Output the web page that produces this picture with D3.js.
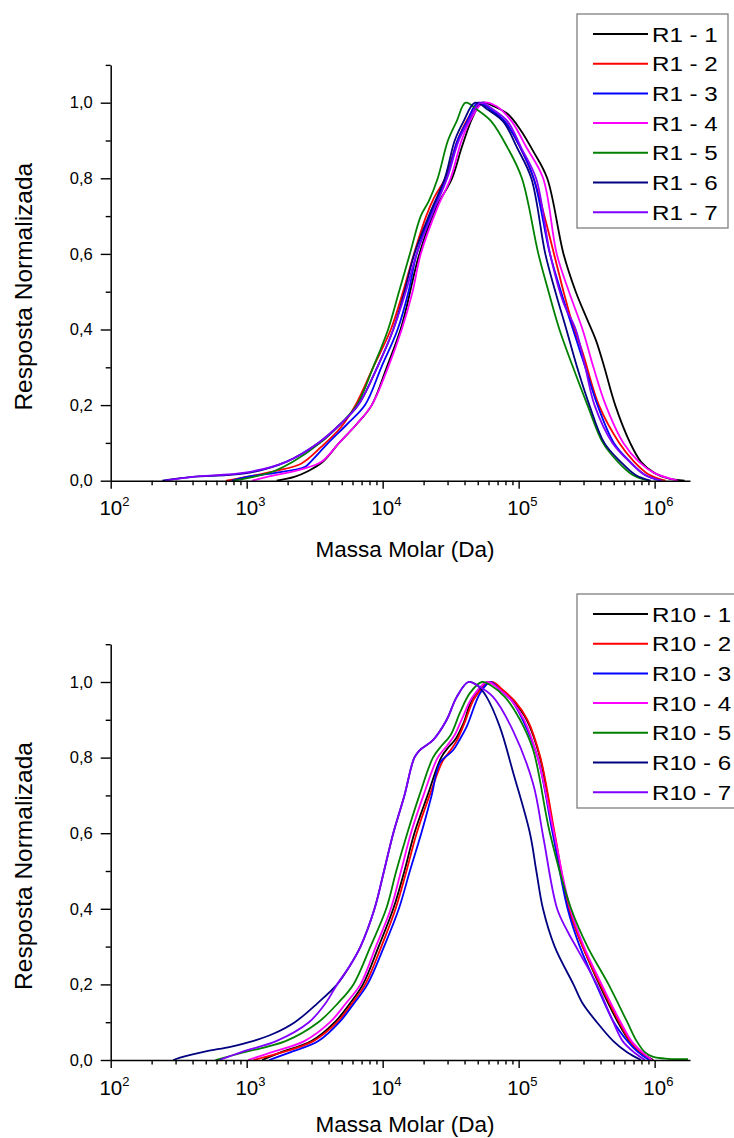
<!DOCTYPE html>
<html>
<head>
<meta charset="utf-8">
<script src="https://cdn.jsdelivr.net/npm/d3@7"></script>
<style>
  html, body { margin: 0; padding: 0; background: #fff; }
  svg { display: block; }
  text { font-family: "Liberation Sans", Arial, sans-serif; fill: #000; }
</style>
</head>
<body>
<svg id="chart" width="734" height="1138"></svg>
<script>
// Molar mass distributions (GPC), normalised detector response.
// Each series: [log10(M / Da), normalised response]

const seriesColors = ["#000000", "#ff0000", "#0000ff", "#ff00ff", "#008000", "#000080", "#8000ff"];

const r1Names = ["R1 - 1", "R1 - 2", "R1 - 3", "R1 - 4", "R1 - 5", "R1 - 6", "R1 - 7"];
const r10Names = ["R10 - 1", "R10 - 2", "R10 - 3", "R10 - 4", "R10 - 5", "R10 - 6", "R10 - 7"];

const yTickValues = [0, 0.2, 0.4, 0.6, 0.8, 1.0];
const xDecades = [2, 3, 4, 5, 6];

const r1_1 = [[3.22,0],[3.35,0.01],[3.45,0.025],[3.56,0.05],[3.68,0.10],[3.81,0.15],[3.92,0.20],[4.03,0.30],[4.14,0.41],[4.27,0.60],[4.39,0.72],[4.51,0.80],[4.58,0.88],[4.66,0.96],[4.73,1.0],[4.82,0.99],[4.92,0.97],[5.01,0.93],[5.11,0.87],[5.21,0.80],[5.33,0.60],[5.42,0.50],[5.50,0.43],[5.57,0.37],[5.63,0.30],[5.71,0.20],[5.82,0.10],[5.90,0.05],[6.00,0.02],[6.10,0.006],[6.22,0]];
const r1_2 = [[2.85,0],[3.0,0.01],[3.2,0.025],[3.4,0.045],[3.55,0.09],[3.69,0.14],[3.80,0.20],[3.93,0.30],[4.06,0.40],[4.15,0.50],[4.23,0.60],[4.32,0.70],[4.38,0.75],[4.46,0.80],[4.55,0.90],[4.63,0.96],[4.71,1.0],[4.80,0.98],[4.90,0.95],[5.00,0.89],[5.11,0.80],[5.26,0.60],[5.33,0.50],[5.40,0.41],[5.47,0.34],[5.59,0.20],[5.74,0.10],[5.85,0.05],[5.95,0.018],[6.08,0]];
const r1_3 = [[2.89,0],[3.0,0.01],[3.2,0.02],[3.43,0.037],[3.47,0.05],[3.60,0.10],[3.74,0.15],[3.87,0.20],[3.99,0.30],[4.11,0.40],[4.19,0.50],[4.25,0.60],[4.37,0.72],[4.47,0.80],[4.55,0.90],[4.62,0.95],[4.70,1.0],[4.80,0.98],[4.90,0.95],[5.00,0.89],[5.11,0.80],[5.23,0.60],[5.32,0.49],[5.40,0.40],[5.49,0.30],[5.58,0.20],[5.70,0.10],[5.82,0.05],[5.93,0.015],[6.05,0]];
const r1_4 = [[3.04,0],[3.15,0.01],[3.40,0.03],[3.55,0.05],[3.68,0.10],[3.81,0.15],[3.92,0.20],[4.04,0.30],[4.14,0.40],[4.22,0.50],[4.28,0.60],[4.40,0.72],[4.50,0.80],[4.58,0.90],[4.64,0.95],[4.74,1.0],[4.84,0.99],[4.95,0.95],[5.06,0.88],[5.18,0.80],[5.28,0.60],[5.37,0.50],[5.47,0.40],[5.55,0.30],[5.64,0.20],[5.77,0.10],[5.885,0.05],[6.0,0.02],[6.17,0]];
const r1_5 = [[2.90,0],[3.05,0.01],[3.20,0.025],[3.34,0.05],[3.54,0.10],[3.69,0.15],[3.81,0.20],[3.93,0.30],[4.04,0.40],[4.12,0.50],[4.20,0.60],[4.28,0.70],[4.34,0.74],[4.405,0.80],[4.48,0.90],[4.543,0.95],[4.61,1.0],[4.70,0.98],[4.80,0.95],[4.92,0.88],[5.024,0.80],[5.145,0.60],[5.22,0.50],[5.30,0.40],[5.40,0.30],[5.506,0.20],[5.62,0.10],[5.73,0.05],[5.84,0.015],[5.95,0]];
const r1_6 = [[2.38,0],[2.6,0.01],[3.0,0.02],[3.29,0.05],[3.527,0.10],[3.69,0.15],[3.82,0.20],[3.96,0.30],[4.078,0.40],[4.16,0.50],[4.233,0.60],[4.35,0.71],[4.457,0.80],[4.53,0.90],[4.594,0.95],[4.68,1.0],[4.78,0.98],[4.887,0.95],[4.99,0.88],[5.093,0.80],[5.196,0.60],[5.27,0.50],[5.351,0.40],[5.43,0.30],[5.52,0.20],[5.63,0.10],[5.75,0.05],[5.86,0.015],[5.97,0]];
const r1_7 = [[2.40,0],[2.6,0.01],[3.0,0.022],[3.29,0.05],[3.527,0.10],[3.69,0.15],[3.82,0.20],[3.96,0.30],[4.078,0.40],[4.17,0.50],[4.25,0.60],[4.37,0.71],[4.474,0.80],[4.56,0.90],[4.63,0.95],[4.72,1.0],[4.82,0.98],[4.92,0.95],[5.02,0.88],[5.128,0.80],[5.231,0.60],[5.33,0.47],[5.42,0.40],[5.49,0.30],[5.558,0.20],[5.69,0.10],[5.816,0.05],[5.93,0.015],[6.05,0]];

const r10_1 = [[3.114,0],[3.25,0.02],[3.476,0.05],[3.648,0.10],[3.76,0.15],[3.855,0.20],[3.97,0.30],[4.078,0.40],[4.16,0.50],[4.233,0.60],[4.33,0.70],[4.43,0.80],[4.49,0.83],[4.532,0.847],[4.593,0.89],[4.666,0.96],[4.78,1.0],[4.87,0.98],[4.96,0.95],[5.059,0.90],[5.157,0.80],[5.26,0.60],[5.37,0.40],[5.472,0.30],[5.593,0.20],[5.73,0.10],[5.816,0.05],[5.90,0.02],[5.99,0]];
const r10_2 = [[3.05,0],[3.26,0.02],[3.49,0.05],[3.665,0.10],[3.775,0.15],[3.872,0.20],[3.99,0.30],[4.095,0.40],[4.175,0.50],[4.25,0.60],[4.345,0.70],[4.44,0.79],[4.50,0.82],[4.545,0.845],[4.60,0.89],[4.68,0.96],[4.80,1.0],[4.88,0.98],[4.97,0.95],[5.065,0.90],[5.16,0.80],[5.265,0.60],[5.37,0.40],[5.47,0.30],[5.60,0.20],[5.74,0.10],[5.82,0.05],[5.90,0.02],[5.98,0]];
const r10_3 = [[3.165,0],[3.32,0.02],[3.527,0.05],[3.682,0.10],[3.79,0.15],[3.888,0.20],[4.01,0.30],[4.119,0.40],[4.20,0.50],[4.284,0.60],[4.36,0.70],[4.421,0.786],[4.519,0.82],[4.57,0.85],[4.618,0.882],[4.716,0.97],[4.79,1.0],[4.86,0.98],[4.95,0.95],[5.03,0.90],[5.14,0.80],[5.25,0.60],[5.36,0.40],[5.45,0.30],[5.57,0.20],[5.70,0.10],[5.80,0.05],[5.88,0.02],[5.96,0]];
const r10_4 = [[3.01,0],[3.18,0.02],[3.424,0.05],[3.613,0.10],[3.73,0.15],[3.837,0.20],[3.95,0.30],[4.06,0.40],[4.135,0.50],[4.208,0.60],[4.30,0.70],[4.405,0.80],[4.47,0.83],[4.53,0.86],[4.58,0.90],[4.66,0.96],[4.77,1.0],[4.86,0.98],[4.95,0.95],[5.04,0.90],[5.14,0.80],[5.26,0.60],[5.38,0.40],[5.48,0.30],[5.61,0.20],[5.75,0.10],[5.83,0.05],[5.91,0.02],[5.98,0]];
const r10_5 = [[2.77,0],[2.976,0.02],[3.286,0.05],[3.527,0.10],[3.67,0.15],[3.785,0.20],[3.91,0.30],[4.026,0.40],[4.10,0.50],[4.181,0.60],[4.27,0.70],[4.37,0.80],[4.43,0.83],[4.50,0.86],[4.57,0.92],[4.64,0.97],[4.73,1.0],[4.80,0.99],[4.90,0.96],[5.01,0.90],[5.107,0.82],[5.23,0.60],[5.386,0.40],[5.506,0.30],[5.661,0.20],[5.799,0.10],[5.868,0.05],[5.93,0.02],[5.99,0.008],[6.10,0.003],[6.245,0.002]];
const r10_6 = [[2.46,0],[2.55,0.01],[2.70,0.023],[2.88,0.035],[3.045,0.05],[3.20,0.07],[3.354,0.10],[3.52,0.15],[3.665,0.20],[3.76,0.25],[3.837,0.30],[3.94,0.40],[4.01,0.50],[4.078,0.60],[4.16,0.70],[4.233,0.80],[4.274,0.82],[4.372,0.847],[4.471,0.90],[4.544,0.96],[4.63,1.0],[4.70,0.99],[4.765,0.96],[4.863,0.88],[4.96,0.76],[5.083,0.60],[5.13,0.50],[5.179,0.40],[5.265,0.30],[5.403,0.20],[5.47,0.15],[5.575,0.10],[5.696,0.05],[5.80,0.02],[5.90,0]];
const r10_7 = [[2.80,0],[2.976,0.023],[3.217,0.05],[3.458,0.10],[3.58,0.15],[3.665,0.20],[3.76,0.25],[3.837,0.30],[3.94,0.40],[4.01,0.50],[4.078,0.60],[4.16,0.70],[4.233,0.80],[4.274,0.82],[4.372,0.847],[4.471,0.90],[4.544,0.96],[4.63,1.0],[4.70,0.99],[4.813,0.96],[4.96,0.87],[5.107,0.73],[5.181,0.59],[5.283,0.40],[5.36,0.34],[5.437,0.29],[5.575,0.20],[5.696,0.10],[5.765,0.05],[5.85,0.02],[5.93,0]];

const r1Series = [r1_1, r1_2, r1_3, r1_4, r1_5, r1_6, r1_7];
const r10Series = [r10_1, r10_2, r10_3, r10_4, r10_5, r10_6, r10_7];

const svg = d3.select("#chart");

// Shared log axis for molar mass (Da)
const x = d3.scaleLog().domain([100, 1.82e6]).range([110.7, 690]);

const minorX = [];
for (let e = 2; e <= 6; e++) {
  for (let m = 2; m <= 9; m++) {
    const v = m * Math.pow(10, e);
    if (v <= x.domain()[1]) minorX.push(v);
  }
}

function drawPanel(baseY, series, names, legendTop, legendWidth, titleY) {
  const g = svg.append("g");
  const y = d3.scaleLinear().domain([0, 1.1]).range([baseY, baseY - 415.8]);

  // curves
  const line = d3.line()
    .x(d => x(Math.pow(10, d[0])))
    .y(d => y(Math.max(0, d[1])))
    .curve(d3.curveCatmullRom.alpha(0.5));

  series.forEach((s, i) => {
    g.append("path")
      .datum(s)
      .attr("d", line)
      .attr("fill", "none")
      .attr("stroke", seriesColors[i])
      .attr("stroke-width", 1.8)
      .attr("stroke-linejoin", "round");
  });

  // y axis
  const yAxis = g.append("g").attr("transform", `translate(${x.range()[0]},0)`)
    .call(d3.axisLeft(y).tickValues(yTickValues).tickSize(10).tickSizeOuter(0).tickPadding(8)
      .tickFormat(d => d3.format(".1f")(d).replace(".", ",")));
  yAxis.select(".domain").attr("stroke-width", 1.5);
  yAxis.selectAll(".tick line").attr("stroke-width", 1.4);
  yAxis.selectAll(".tick text").attr("font-size", 16.5).attr("font-family", "Liberation Sans, Arial, sans-serif");

  const yMinor = g.append("g").attr("transform", `translate(${x.range()[0]},0)`)
    .call(d3.axisLeft(y).tickValues([0.1, 0.3, 0.5, 0.7, 0.9, 1.1]).tickSize(5).tickSizeOuter(0).tickFormat(""));
  yMinor.select(".domain").remove();
  yMinor.selectAll(".tick line").attr("stroke-width", 1.4);

  // x axis
  const xAxis = g.append("g").attr("transform", `translate(0,${baseY})`)
    .call(d3.axisBottom(x).tickValues(xDecades.map(e => Math.pow(10, e))).tickSize(8).tickSizeOuter(0).tickFormat(""));
  xAxis.select(".domain").attr("stroke-width", 1.5);
  xAxis.selectAll(".tick line").attr("stroke-width", 1.4);

  const xMinor = g.append("g").attr("transform", `translate(0,${baseY})`)
    .call(d3.axisBottom(x).tickValues(minorX).tickSize(4.5).tickSizeOuter(0).tickFormat(""));
  xMinor.select(".domain").remove();
  xMinor.selectAll(".tick line").attr("stroke-width", 1.4);

  // decade labels 10^n, with the "10" centred on its tick
  xDecades.forEach(e => {
    const t = g.append("text")
      .attr("x", x(Math.pow(10, e)) - 11.3)
      .attr("y", baseY + 34.5)
      .attr("text-anchor", "start")
      .attr("font-size", 20.5);
    t.append("tspan").text("10");
    t.append("tspan").attr("font-size", 13).attr("dy", -9).text(String(e));
  });

  // axis titles
  g.append("text")
    .attr("x", 405)
    .attr("y", titleY)
    .attr("text-anchor", "middle")
    .attr("font-size", 22.5)
    .text("Massa Molar (Da)");

  g.append("text")
    .attr("transform", `translate(32,${baseY - 194}) rotate(-90)`)
    .attr("text-anchor", "middle")
    .attr("font-size", 24.5)
    .text("Resposta Normalizada");

  // legend
  const lg = g.append("g");
  lg.append("rect")
    .attr("x", 577).attr("y", legendTop)
    .attr("width", legendWidth).attr("height", 214)
    .attr("fill", "#fff")
    .attr("stroke", "#7f7f7f")
    .attr("stroke-width", 1.3);

  names.forEach((n, i) => {
    const ry = legendTop + 20 + i * 29.7;
    lg.append("line")
      .attr("x1", 593).attr("x2", 648)
      .attr("y1", ry).attr("y2", ry)
      .attr("stroke", seriesColors[i])
      .attr("stroke-width", 2);
    lg.append("text")
      .attr("transform", `translate(652,${ry + 7.6}) scale(1.15,1)`)
      .attr("font-size", 21)
      .text(n);
  });
}

drawPanel(480.7, r1Series, r1Names, 14, 151, 556.5);
drawPanel(1060, r10Series, r10Names, 594, 170, 1132);
</script>
</body>
</html>
